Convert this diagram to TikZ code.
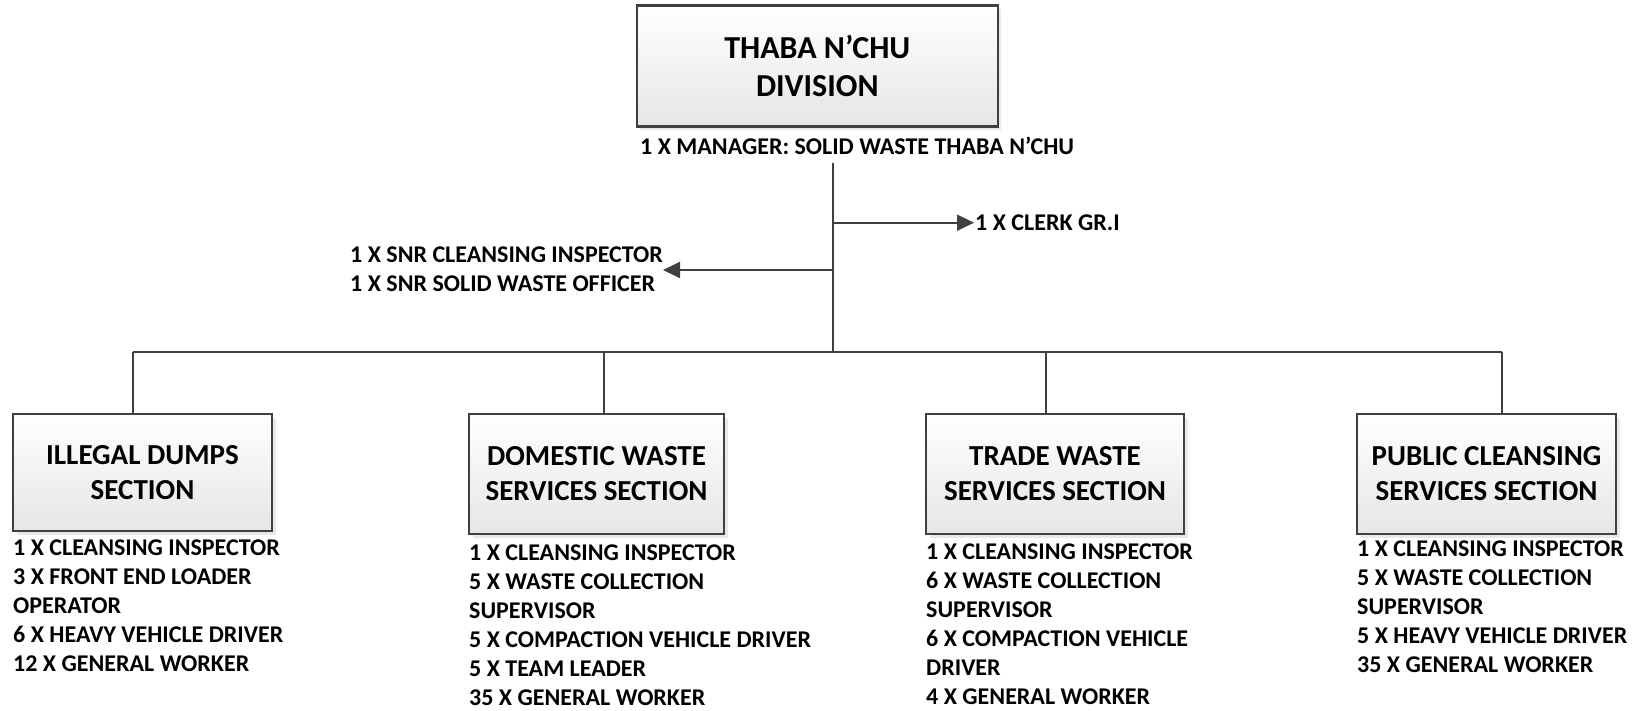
\documentclass[tikz,border=0pt]{standalone}
\usepackage{fontspec}
\setmainfont{Carlito}
\usetikzlibrary{arrows.meta,shadows}
\definecolor{linegray}{HTML}{404040}
\begin{document}
\begin{tikzpicture}[x=1pt,y=-1pt,
  conn/.style={draw=linegray, line width=2pt},
  arr/.style={conn, -{Triangle[length=17pt,width=16pt]}},
  boxbase/.style={draw=linegray, line width=2.5pt, rectangle,
    top color=white, bottom color=black!10,
    drop shadow={shadow xshift=3.5pt, shadow yshift=-3.5pt, fill=black!18},
    align=center, inner sep=0pt},
  secbox/.style={boxbase, font=\fontsize{29}{35}\selectfont\bfseries},
  topbox/.style={boxbase, font=\fontsize{32}{38}\selectfont\bfseries},
  lbl/.style={inner sep=0pt, align=left, anchor=base west, font=\fontsize{24}{29}\selectfont\bfseries}
]
\useasboundingbox (0,0) rectangle (1641,710);

% boxes
\node[topbox, minimum width=361pt, minimum height=121pt] (top) at (817.3,66.2) {THABA N’CHU\\DIVISION};
\node[secbox, minimum width=259pt, minimum height=117pt] (b1) at (142.5,472.5) {ILLEGAL DUMPS\\SECTION};
\node[secbox, minimum width=255pt, minimum height=120pt] (b2) at (596.5,474) {DOMESTIC WASTE\\SERVICES SECTION};
\node[secbox, minimum width=258pt, minimum height=120pt] (b3) at (1055,474) {TRADE WASTE\\SERVICES SECTION};
\node[secbox, minimum width=259pt, minimum height=120pt] (b4) at (1486.5,474) {PUBLIC CLEANSING\\SERVICES SECTION};

% labels (multi-line labels are anchored at the baseline of their last line)
\node[lbl] (mgr) at (640,154.4) {1 X MANAGER: SOLID WASTE THABA N’CHU};
\node[lbl] (clerk) at (975,230.4) {1 X CLERK GR.I};
\node[lbl] (snr) at (350,291.7) {1 X SNR CLEANSING INSPECTOR\\1 X SNR SOLID WASTE OFFICER};

\node[lbl] (l1) at (13,671) {1 X CLEANSING INSPECTOR\\3 X FRONT END LOADER\\OPERATOR\\6 X HEAVY VEHICLE DRIVER\\12 X GENERAL WORKER};
\node[lbl] (l2) at (469,705) {1 X CLEANSING INSPECTOR\\5 X WASTE COLLECTION\\SUPERVISOR\\5 X COMPACTION VEHICLE DRIVER\\5 X TEAM LEADER\\35 X GENERAL WORKER};
\node[lbl] (l3) at (926,704.5) {1 X CLEANSING INSPECTOR\\6 X WASTE COLLECTION\\SUPERVISOR\\6 X COMPACTION VEHICLE\\DRIVER\\4 X GENERAL WORKER};
\node[lbl] (l4) at (1357,672) {1 X CLEANSING INSPECTOR\\5 X WASTE COLLECTION\\SUPERVISOR\\5 X HEAVY VEHICLE DRIVER\\35 X GENERAL WORKER};

% connector coordinates
\coordinate (trunk) at (833.3,163.3);
\coordinate (jclerk) at (833.3,222.7);
\coordinate (jsnr) at (833.3,270);
\coordinate (bus) at (833.3,351.7);
\coordinate (d1) at (133,351.7);
\coordinate (d2) at (604,351.7);
\coordinate (d3) at (1045.7,351.7);
\coordinate (d4) at (1501.7,351.7);
\coordinate (snrtip) at (663,270);
\coordinate (clerktip) at (974,222.7);

% connectors
\draw[conn] (trunk) -- (bus);
\draw[arr] (jclerk) -- (clerktip);
\draw[arr] (jsnr) -- (snrtip);
\draw[conn] (d1) -- (d4);
\draw[conn] (d1) -- (d1 |- b1.north);
\draw[conn] (d2) -- (d2 |- b2.north);
\draw[conn] (d3) -- (d3 |- b3.north);
\draw[conn] (d4) -- (d4 |- b4.north);
\end{tikzpicture}
\end{document}
